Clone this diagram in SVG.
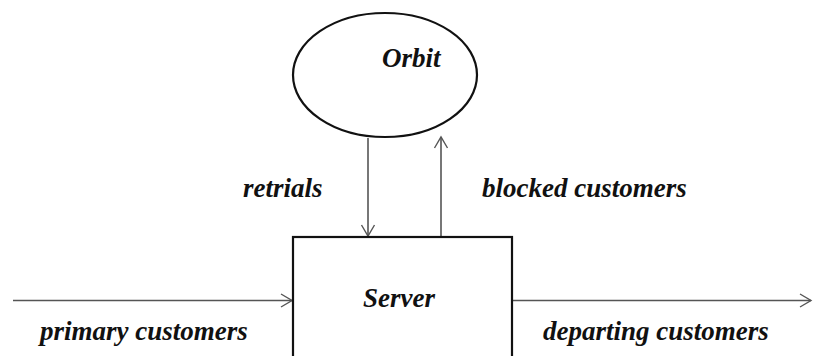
<svg xmlns="http://www.w3.org/2000/svg" width="813" height="356" viewBox="0 0 813 356">
  <style>
    .shape { fill: #ffffff; stroke: #111111; stroke-width: 2.2; }
    .flow { fill: none; stroke: #555555; stroke-width: 1.6; }
    .head { fill: none; stroke: #555555; stroke-width: 1.4; }
    .label { font-family: "Liberation Serif", "Times New Roman", serif; font-weight: bold; font-style: italic; font-size: 27px; fill: #111111; }
  </style>
  <rect width="813" height="356" fill="#ffffff"/>

  <g id="connectors">
    <!-- primary customers into server -->
    <line class="flow" x1="13" y1="300.5" x2="292" y2="300.5"/>
    <polyline class="head" points="281,294 292,300.5 281,307"/>
    <!-- departing customers out of server -->
    <line class="flow" x1="513" y1="300.5" x2="811" y2="300.5"/>
    <polyline class="head" points="800,294 811,300.5 800,307"/>
    <!-- retrials: orbit to server -->
    <line class="flow" x1="368" y1="138" x2="368" y2="236"/>
    <polyline class="head" points="361.5,225 368,236 374.5,225"/>
    <!-- blocked customers: server to orbit -->
    <line class="flow" x1="441" y1="236" x2="441" y2="137"/>
    <polyline class="head" points="434.5,148 441,137 447.5,148"/>
  </g>

  <g id="orbit">
    <ellipse class="shape" cx="385" cy="75" rx="92" ry="62"/>
    <text class="label" x="382" y="67">Orbit</text>
  </g>

  <g id="server">
    <rect class="shape" x="293" y="237" width="219" height="130"/>
    <text class="label" x="363" y="307">Server</text>
  </g>

  <g id="labels">
    <text class="label" x="243" y="197">retrials</text>
    <text class="label" x="482" y="197">blocked customers</text>
    <text class="label" x="40" y="340">primary customers</text>
    <text class="label" x="543" y="340">departing customers</text>
  </g>
</svg>
